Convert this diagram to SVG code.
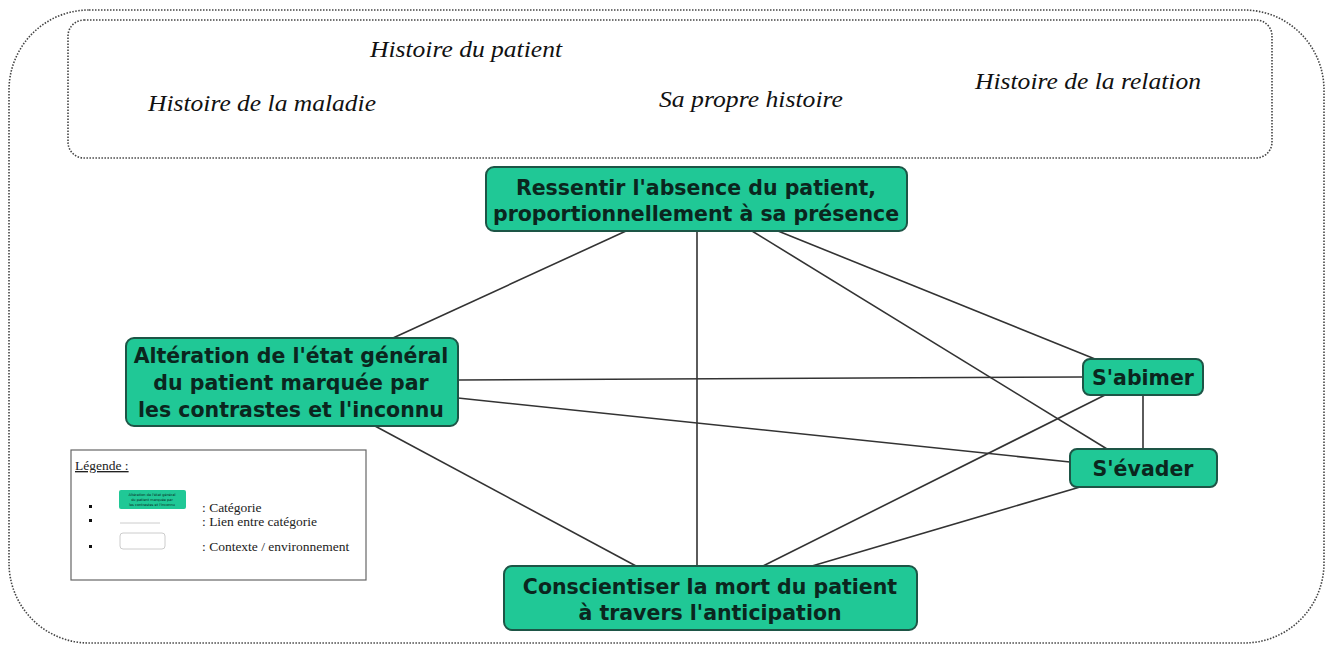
<svg xmlns="http://www.w3.org/2000/svg" width="1328" height="649" viewBox="0 0 1328 649">
<style>
.ctx{fill:none;stroke:#444;stroke-width:1.6;stroke-dasharray:1.5 1.5}
.hist{font-family:"Liberation Serif",serif;font-style:italic;font-size:24px;fill:#111}
.node rect{fill:#20c896;stroke:#1d5546;stroke-width:2}
.node text{font-family:"DejaVu Sans",Verdana,sans-serif;font-weight:bold;font-size:20.5px;fill:#0b261e;text-anchor:middle}
.conn line{stroke:#333;stroke-width:1.6}
.leg{font-family:"Liberation Serif",serif;font-size:13.5px;fill:#222}
.tiny{font-family:"DejaVu Sans",sans-serif;font-size:3.5px;fill:#0b261e;text-anchor:middle}
</style>
<rect width="1328" height="649" fill="#fff"/>
<rect class="ctx" x="9" y="10" width="1315" height="633" rx="80" ry="80"/>
<rect class="ctx" x="68" y="20" width="1204" height="138" rx="16" ry="16"/>
<text class="hist" x="370" y="57" textLength="192" lengthAdjust="spacingAndGlyphs">Histoire du patient</text>
<text class="hist" x="148" y="111" textLength="228" lengthAdjust="spacingAndGlyphs">Histoire de la maladie</text>
<text class="hist" x="659" y="107" textLength="184" lengthAdjust="spacingAndGlyphs">Sa propre histoire</text>
<text class="hist" x="975" y="89" textLength="226" lengthAdjust="spacingAndGlyphs">Histoire de la relation</text>
<g id="connectors" class="conn">
<line x1="626" y1="231" x2="393" y2="338"/>
<line x1="697" y1="231" x2="697" y2="566"/>
<line x1="752" y1="231" x2="1107" y2="449"/>
<line x1="778" y1="231" x2="1095" y2="359"/>
<line x1="458" y1="380" x2="1083" y2="377"/>
<line x1="458" y1="398" x2="1070" y2="462"/>
<line x1="375" y1="426" x2="636" y2="566"/>
<line x1="1143" y1="395" x2="1143" y2="449"/>
<line x1="1105" y1="395" x2="763" y2="566"/>
<line x1="1080" y1="487" x2="812" y2="566"/>
</g>
<g id="n-ressentir" class="node">
<rect x="486" y="167" width="421" height="64" rx="8"/>
<text x="696" y="195">Ressentir l'absence du patient,</text>
<text x="696" y="221">proportionnellement à sa présence</text>
</g>
<g id="n-alteration" class="node">
<rect x="126" y="338" width="332" height="88" rx="8"/>
<text x="291" y="363">Altération de l'état général</text>
<text x="291" y="390">du patient marquée par</text>
<text x="291" y="417">les contrastes et l'inconnu</text>
</g>
<g id="n-abimer" class="node">
<rect x="1083" y="359" width="120" height="36" rx="7"/>
<text x="1143" y="385">S'abimer</text>
</g>
<g id="n-evader" class="node">
<rect x="1070" y="449" width="147" height="38" rx="7"/>
<text x="1143" y="476">S'évader</text>
</g>
<g id="n-conscientiser" class="node">
<rect x="504" y="566" width="413" height="64" rx="8"/>
<text x="710" y="594">Conscientiser la mort du patient</text>
<text x="710" y="620">à travers l'anticipation</text>
</g>
<g id="legend">
<rect x="71" y="450" width="295" height="130" fill="#fff" stroke="#666" stroke-width="1.2"/>
<text class="leg" x="75" y="470" text-decoration="underline">Légende :</text>
<rect x="89" y="505" width="3" height="3" fill="#111"/>
<rect x="89" y="519" width="3" height="3" fill="#111"/>
<rect x="89" y="545" width="3" height="3" fill="#111"/>
<rect x="119" y="490" width="67" height="19" rx="2" fill="#20c896"/>
<text class="tiny" x="152" y="496">Altération de l'état général</text>
<text class="tiny" x="152" y="501">du patient marquée par</text>
<text class="tiny" x="152" y="506">les contrastes et l'inconnu</text>
<line x1="120" y1="523" x2="160" y2="523" stroke="#ccc" stroke-width="1"/>
<rect x="120" y="533" width="45" height="16" rx="3" fill="none" stroke="#ccc" stroke-width="1"/>
<text class="leg" x="202" y="512">: Catégorie</text>
<text class="leg" x="202" y="526">: Lien entre catégorie</text>
<text class="leg" x="202" y="551">: Contexte / environnement</text>
</g>
</svg>
